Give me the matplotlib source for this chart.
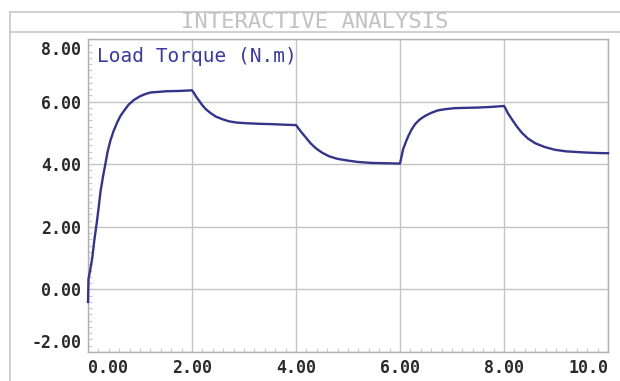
import matplotlib.pyplot as plt
from matplotlib.lines import Line2D
from matplotlib.ticker import MultipleLocator
import matplotlib.transforms as mtransforms

# 読み取った負荷トルク (N.m)
time = [0.0, 0.01, 0.04, 0.08, 0.12, 0.17, 0.20, 0.24, 0.29, 0.34, 0.38, 0.43, 0.49,
        0.56, 0.62, 0.69, 0.78, 0.88, 1.0, 1.1, 1.2, 1.35, 1.5, 1.75, 2.0,
        2.04, 2.07, 2.10, 2.14, 2.2, 2.27, 2.36, 2.46, 2.58, 2.71, 2.86, 3.03, 3.3,
        3.54, 3.8, 4.0,
        4.05, 4.1, 4.19, 4.28, 4.38, 4.5, 4.64, 4.8, 5.02, 5.2, 5.46, 5.75, 6.0,
        6.03, 6.06, 6.11, 6.16, 6.22, 6.29, 6.38, 6.48, 6.6, 6.73, 6.88, 7.05, 7.25,
        7.5, 7.75, 8.0,
        8.04, 8.07, 8.11, 8.15, 8.24, 8.34, 8.46, 8.6, 8.78, 8.98, 9.2, 9.49, 9.75, 10.0]
torque = [-0.4, 0.34, 0.6, 0.98, 1.55, 2.15, 2.55, 3.12, 3.62, 4.06, 4.42, 4.75, 5.05,
          5.33, 5.53, 5.70, 5.90, 6.05, 6.17, 6.24, 6.29, 6.31, 6.33, 6.34, 6.36,
          6.27, 6.18, 6.11, 6.02, 5.88, 5.75, 5.63, 5.52, 5.44, 5.37, 5.33, 5.31, 5.29,
          5.28, 5.26, 5.25,
          5.14, 5.03, 4.85, 4.67, 4.51, 4.37, 4.25, 4.17, 4.11, 4.07, 4.04, 4.03, 4.02,
          4.25, 4.48, 4.70, 4.90, 5.10, 5.28, 5.43, 5.54, 5.64, 5.72, 5.76, 5.79, 5.80,
          5.81, 5.83, 5.86,
          5.75, 5.64, 5.54, 5.44, 5.22, 5.01, 4.82, 4.67, 4.55, 4.46, 4.41, 4.38, 4.36, 4.35]

x_ticks = [0, 2, 4, 6, 8, 10]
x_labels = ["0.00", "2.00", "4.00", "6.00", "8.00", "10.0"]
y_ticks = [-2, 0, 2, 4, 6, 8]
y_labels = ["-2.00", "0.00", "2.00", "4.00", "6.00", "8.00"]

W, H = 620, 381
fig = plt.figure(figsize=(W / 100, H / 100), dpi=100)
ax = fig.add_axes([88 / W, 1 - 352 / H, (608 - 88) / W, (352 - 39) / H])

ax.plot(time, torque, color="#34348a", lw=1.7, solid_joinstyle="round", clip_on=False, zorder=3)

ax.set_xlim(0, 10)
ax.set_ylim(-2, 8)
ax.set_xticks(x_ticks)
ax.set_xticklabels(x_labels)
ax.set_yticks(y_ticks)
ax.set_yticklabels(y_labels)
ax.xaxis.set_minor_locator(MultipleLocator(0.2))
ax.yaxis.set_minor_locator(MultipleLocator(0.2))

ax.grid(True, which="major", color="#c4c4c4", lw=1.0)
for s in ax.spines.values():
    s.set_color("#b0b0b0")
    s.set_linewidth(1.0)

ax.tick_params(which="major", length=0, pad=5, labelsize=12, labelcolor="#2a2a2a")
ax.tick_params(which="minor", direction="in", length=3, color="#c8c8c8", width=0.8)
for lab in ax.get_xticklabels() + ax.get_yticklabels():
    lab.set_family("DejaVu Sans Mono")
    lab.set_fontweight("bold")

# 端のラベルは内側へ寄せる
xl = ax.get_xticklabels()
xl[0].set_ha("left")
xl[-1].set_ha("right")
yl = ax.get_yticklabels()
yl[0].set_transform(yl[0].get_transform() + mtransforms.ScaledTranslation(0, 11 / 100, fig.dpi_scale_trans))
yl[-1].set_transform(yl[-1].get_transform() + mtransforms.ScaledTranslation(0, -9 / 100, fig.dpi_scale_trans))

ax.text(0.017, 0.975, "Load Torque (N.m)", transform=ax.transAxes, ha="left", va="top",
        family="DejaVu Sans Mono", fontsize=14, color="#3a3aa0")

# 外枠とタイトル帯
for (x0, x1, y0, y1) in [(10, W, 12, 12), (10, W, 32, 32), (10, 10, 12, H)]:
    fig.add_artist(Line2D([x0 / W, x1 / W], [1 - y0 / H, 1 - y1 / H],
                          transform=fig.transFigure, color="#c8c8c8", lw=1.2))
fig.text(315 / W, 1 - 22 / H, "INTERACTIVE ANALYSIS", ha="center", va="center",
         family="DejaVu Sans Mono", fontsize=16, color="#c2c2c2")

plt.savefig("out.png", dpi=100)
